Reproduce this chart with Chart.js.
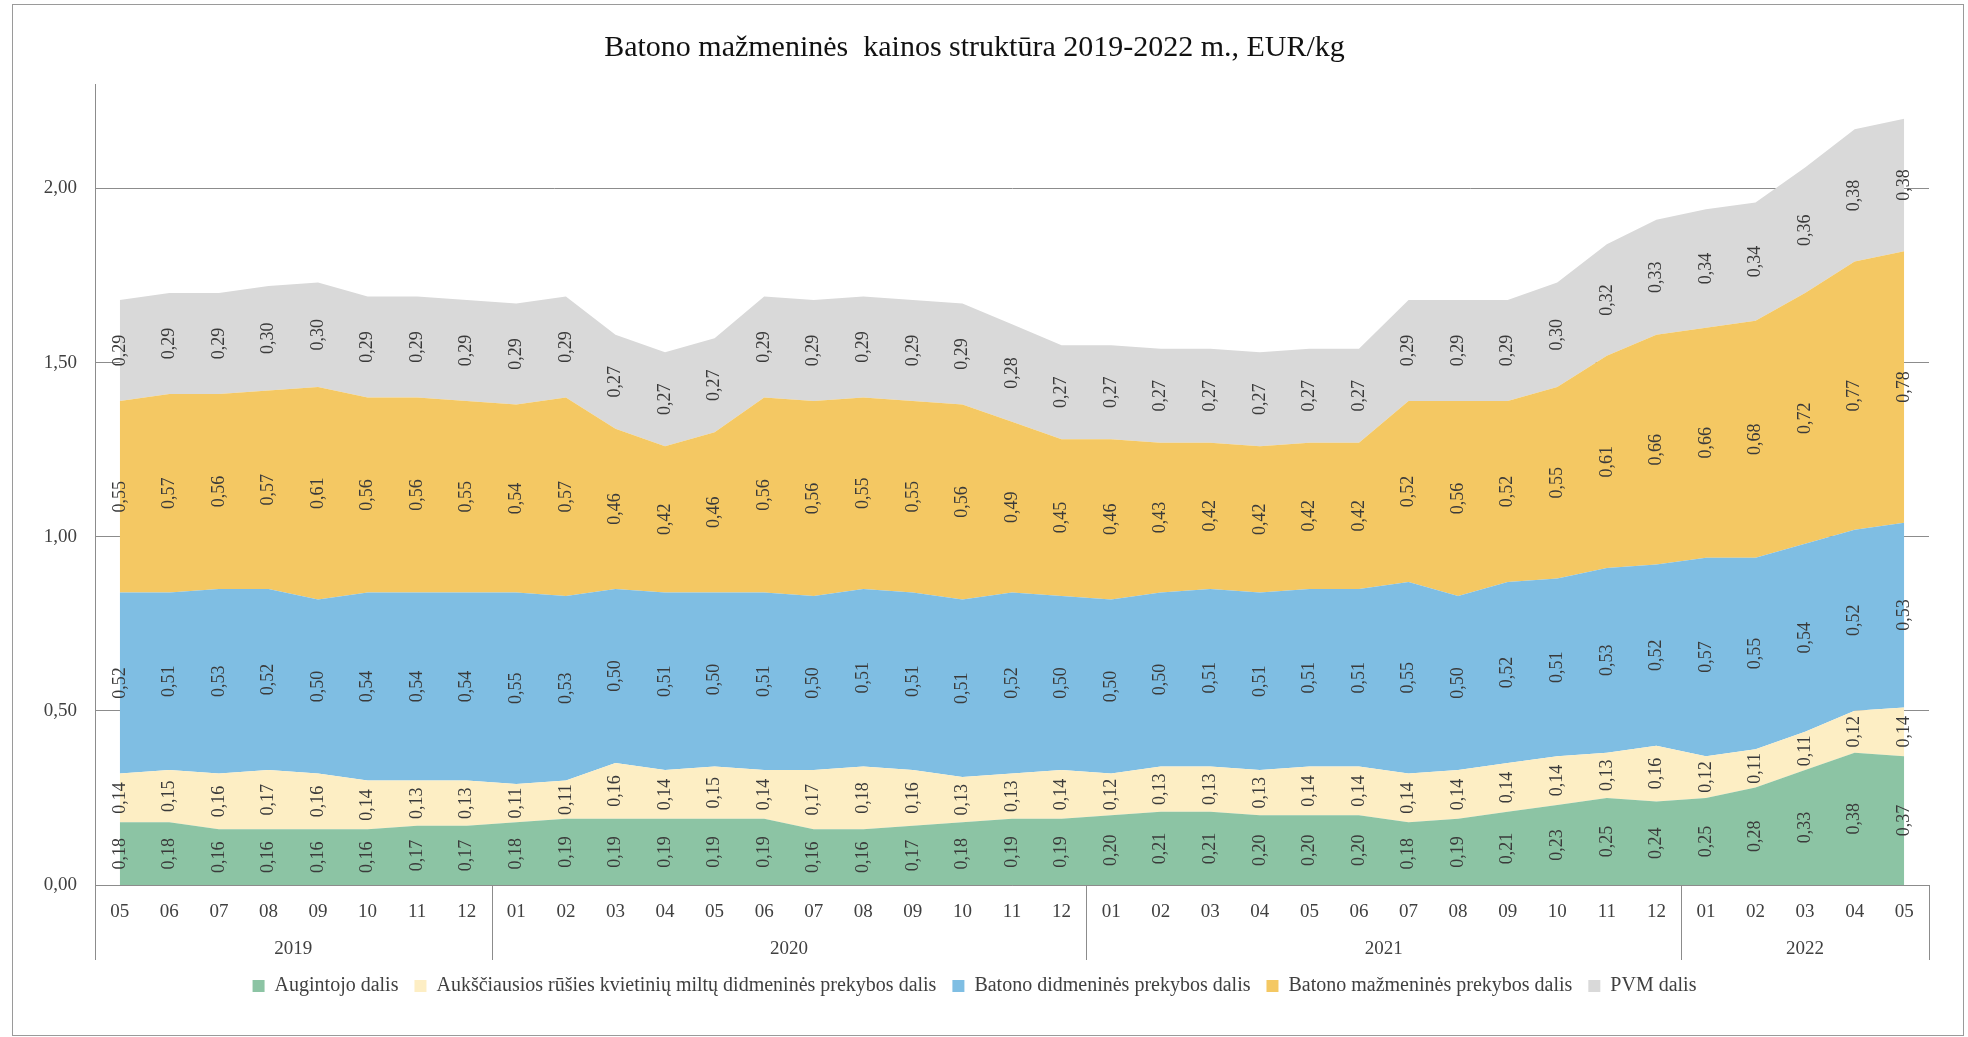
<!DOCTYPE html>
<html lang="lt">
<head>
    <meta charset="UTF-8">
    <title>Batono mažmeninės kainos struktūra</title>
    <script src="https://cdn.jsdelivr.net/npm/chart.js"></script>
    <style>
        html, body { margin: 0; padding: 0; background: #fff; }
        #wrap { width: 1968px; height: 1037px; }
    </style>
</head>
<body>
    <div id="wrap"><canvas id="priceChart"></canvas></div>

    <script>
        // Data (EUR/kg)
        const months = ['05','06','07','08','09','10','11','12',
            '01','02','03','04','05','06','07','08','09','10','11','12',
            '01','02','03','04','05','06','07','08','09','10','11','12',
            '01','02','03','04','05'];
        const years = ['2019', '2020', '2021', '2022'];
        const yearStarts = [0, 8, 20, 32];   // index of first month in each year

        const augintojo = [0.18,0.18,0.16,0.16,0.16,0.16,0.17,0.17,
            0.18,0.19,0.19,0.19,0.19,0.19,0.16,0.16,0.17,0.18,0.19,0.19,
            0.20,0.21,0.21,0.20,0.20,0.20,0.18,0.19,0.21,0.23,0.25,0.24,
            0.25,0.28,0.33,0.38,0.37];
        const miltu = [0.14,0.15,0.16,0.17,0.16,0.14,0.13,0.13,
            0.11,0.11,0.16,0.14,0.15,0.14,0.17,0.18,0.16,0.13,0.13,0.14,
            0.12,0.13,0.13,0.13,0.14,0.14,0.14,0.14,0.14,0.14,0.13,0.16,
            0.12,0.11,0.11,0.12,0.14];
        const didmenine = [0.52,0.51,0.53,0.52,0.50,0.54,0.54,0.54,
            0.55,0.53,0.50,0.51,0.50,0.51,0.50,0.51,0.51,0.51,0.52,0.50,
            0.50,0.50,0.51,0.51,0.51,0.51,0.55,0.50,0.52,0.51,0.53,0.52,
            0.57,0.55,0.54,0.52,0.53];
        const mazmenine = [0.55,0.57,0.56,0.57,0.61,0.56,0.56,0.55,
            0.54,0.57,0.46,0.42,0.46,0.56,0.56,0.55,0.55,0.56,0.49,0.45,
            0.46,0.43,0.42,0.42,0.42,0.42,0.52,0.56,0.52,0.55,0.61,0.66,
            0.66,0.68,0.72,0.77,0.78];
        const pvm = [0.29,0.29,0.29,0.30,0.30,0.29,0.29,0.29,
            0.29,0.29,0.27,0.27,0.27,0.29,0.29,0.29,0.29,0.29,0.28,0.27,
            0.27,0.27,0.27,0.27,0.27,0.27,0.29,0.29,0.29,0.30,0.32,0.33,
            0.34,0.34,0.36,0.38,0.38];
        const yTicks = [0, 0.5, 1, 1.5, 2];

        const serif = "'Liberation Serif', 'Times New Roman', serif";
        const axisGray = '#8c8c8c';
        const fmt = v => v.toFixed(2).replace('.', ',');

        function series(label, data, color, fill) {
            return {
                label: label,
                data: data,
                backgroundColor: color,
                borderColor: color,
                borderWidth: 0,
                pointRadius: 0,
                fill: fill,
                tension: 0
            };
        }

        // outer frame
        const framePlugin = {
            id: 'frame',
            beforeDraw(chart) {
                const c = chart.ctx;
                c.save();
                c.fillStyle = '#fff';
                c.fillRect(0, 0, chart.width, chart.height);
                c.strokeStyle = '#9a9a9a';
                c.lineWidth = 1;
                c.strokeRect(12.5, 4.5, 1951, 1031);
                c.restore();
            }
        };

        // rotated value labels, centred in every band
        const valueLabels = {
            id: 'valueLabels',
            afterDatasetsDraw(chart) {
                const c = chart.ctx;
                const y0 = chart.scales.y.getPixelForValue(0);
                c.save();
                c.font = '18px ' + serif;
                c.fillStyle = '#3a3a3a';
                c.textAlign = 'center';
                c.textBaseline = 'middle';
                chart.data.datasets.forEach((ds, i) => {
                    const meta = chart.getDatasetMeta(i);
                    const below = i > 0 ? chart.getDatasetMeta(i - 1) : null;
                    meta.data.forEach((pt, j) => {
                        const base = below ? below.data[j].y : y0;
                        c.save();
                        c.translate(pt.x, (pt.y + base) / 2);
                        c.rotate(-Math.PI / 2);
                        c.fillText(fmt(ds.data[j]), 0, 0);
                        c.restore();
                    });
                });
                c.restore();
            }
        };

        // year row and separators under the month labels
        const yearAxis = {
            id: 'yearAxis',
            afterDraw(chart) {
                const x = chart.scales.x;
                const area = chart.chartArea;
                const c = chart.ctx;
                const bottom = area.bottom + 75;
                const half = (x.getPixelForValue(1) - x.getPixelForValue(0)) / 2;
                c.save();
                c.strokeStyle = axisGray;
                c.lineWidth = 1;
                const edges = yearStarts.map(i => x.getPixelForValue(i) - half);
                edges.push(x.getPixelForValue(months.length - 1) + half);
                edges.forEach(px => {
                    const xx = Math.round(px) + 0.5;
                    c.beginPath();
                    c.moveTo(xx, area.bottom);
                    c.lineTo(xx, bottom);
                    c.stroke();
                });
                c.font = '19px ' + serif;
                c.fillStyle = '#404040';
                c.textAlign = 'center';
                c.textBaseline = 'middle';
                years.forEach((yr, k) => {
                    c.fillText(yr, (edges[k] + edges[k + 1]) / 2, area.bottom + 64);
                });
                c.restore();
            }
        };

        const ctx = document.getElementById('priceChart').getContext('2d');
        new Chart(ctx, {
            type: 'line',
            data: {
                labels: months,
                datasets: [
                    series('Augintojo dalis', augintojo, '#8cc4a4', 'origin'),
                    series('Aukščiausios rūšies kvietinių miltų didmeninės prekybos dalis', miltu, '#fdeec4', '-1'),
                    series('Batono didmeninės prekybos dalis', didmenine, '#7fbee3', '-1'),
                    series('Batono mažmeninės prekybos dalis', mazmenine, '#f4c863', '-1'),
                    series('PVM dalis', pvm, '#d9d9d9', '-1')
                ]
            },
            options: {
                responsive: true,
                maintainAspectRatio: false,
                animation: false,
                layout: { padding: { top: 6, left: 20, right: 39, bottom: 31 } },
                plugins: {
                    title: {
                        display: true,
                        text: 'Batono mažmeninės  kainos struktūra 2019-2022 m., EUR/kg',
                        color: '#111',
                        font: { family: serif, size: 30, weight: 'normal' },
                        padding: { top: 24, bottom: 18 }
                    },
                    legend: {
                        position: 'bottom',
                        labels: {
                            color: '#404040',
                            font: { family: serif, size: 20 },
                            boxWidth: 12,
                            boxHeight: 12,
                            padding: 16
                        }
                    },
                    tooltip: { enabled: false }
                },
                scales: {
                    x: {
                        offset: true,
                        grid: { display: false, drawTicks: false },
                        border: { display: true, color: axisGray },
                        ticks: {
                            color: '#404040',
                            font: { family: serif, size: 19 },
                            padding: 16,
                            maxRotation: 0,
                            autoSkip: false
                        },
                        afterFit(scale) { scale.height = 75; }
                    },
                    y: {
                        stacked: true,
                        min: 0,
                        max: 2.3,
                        afterBuildTicks(scale) {
                            scale.ticks = yTicks.map(v => ({ value: v }));
                        },
                        grid: { color: axisGray, drawTicks: false },
                        border: { display: true, color: axisGray },
                        ticks: {
                            color: '#404040',
                            font: { family: serif, size: 19 },
                            padding: 18,
                            callback: v => fmt(v)
                        },
                        afterFit(scale) { scale.width = 75; }
                    }
                }
            },
            plugins: [framePlugin, valueLabels, yearAxis]
        });
    </script>
</body>
</html>
